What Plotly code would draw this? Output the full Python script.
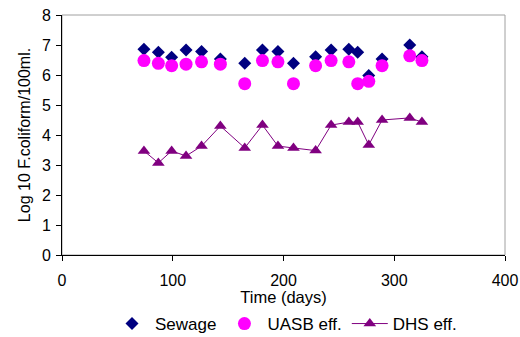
import plotly.graph_objects as go

days = [74, 87, 99, 112, 126, 143, 165, 181, 195, 209, 229, 243, 259, 267, 277, 289, 314, 325]
sewage = [6.86, 6.76, 6.59, 6.83, 6.78, 6.53, 6.39, 6.83, 6.78, 6.39, 6.61, 6.83, 6.86, 6.76, 5.98, 6.53, 7.0, 6.61]
uasb = [6.48, 6.39, 6.31, 6.36, 6.44, 6.36, 5.71, 6.48, 6.44, 5.71, 6.31, 6.48, 6.44, 5.71, 5.79, 6.31, 6.64, 6.48]
dhs = [3.47, 3.07, 3.47, 3.3, 3.63, 4.3, 3.57, 4.33, 3.63, 3.57, 3.48, 4.33, 4.43, 4.43, 3.67, 4.5, 4.57, 4.43]

x_ticks = [0, 100, 200, 300, 400]
y_ticks = [0, 1, 2, 3, 4, 5, 6, 7, 8]

FONT = "Arial, Liberation Sans, sans-serif"

fig = go.Figure()
fig.add_trace(go.Scatter(x=days, y=dhs, mode="lines+markers", name="DHS eff.",
                         line=dict(color="#800080", width=1),
                         marker=dict(symbol="triangle-up", size=11, color="#800080")))
fig.add_trace(go.Scatter(x=days, y=sewage, mode="markers", name="Sewage",
                         marker=dict(symbol="diamond", size=10, color="#000080")))
fig.add_trace(go.Scatter(x=days, y=uasb, mode="markers", name="UASB eff.",
                         marker=dict(symbol="circle", size=13, color="#FF00FF")))

fig.add_shape(type="rect", xref="paper", yref="paper", x0=0, x1=1, y0=0, y1=1,
              line=dict(color="#a0a0a0", width=1), layer="below")

fig.update_layout(
    width=520, height=337,
    margin=dict(l=62, r=15, t=15, b=82, autoexpand=False),
    paper_bgcolor="white", plot_bgcolor="white",
    font=dict(family=FONT, size=16, color="black"),
    showlegend=True,
    legend=dict(orientation="h", x=109 / 520, xref="container", xanchor="left",
                y=13 / 337, yref="container", yanchor="middle",
                traceorder="normal", font=dict(size=17), itemwidth=36,
                bgcolor="rgba(0,0,0,0)"),
    xaxis=dict(range=[0, 400], tickvals=x_ticks, showgrid=False, zeroline=False,
               showline=True, linecolor="black", linewidth=1, automargin=False,
               ticks="outside", ticklen=5, tickcolor="black", ticklabelstandoff=6,
               tickfont=dict(size=16),
               title=dict(text="Time (days)", standoff=5, font=dict(size=16.5))),
    yaxis=dict(range=[0, 8], tickvals=y_ticks, showgrid=False, zeroline=False,
               showline=True, linecolor="black", linewidth=1, automargin=False,
               ticks="outside", ticklen=5, tickcolor="black", ticklabelstandoff=2,
               tickfont=dict(size=16),
               title=dict(text="Log 10 F.coliform/100ml.", standoff=7, font=dict(size=16))),
)

fig.data[1].legendrank = 1
fig.data[2].legendrank = 2
fig.data[0].legendrank = 3

fig.write_html("out.html")
